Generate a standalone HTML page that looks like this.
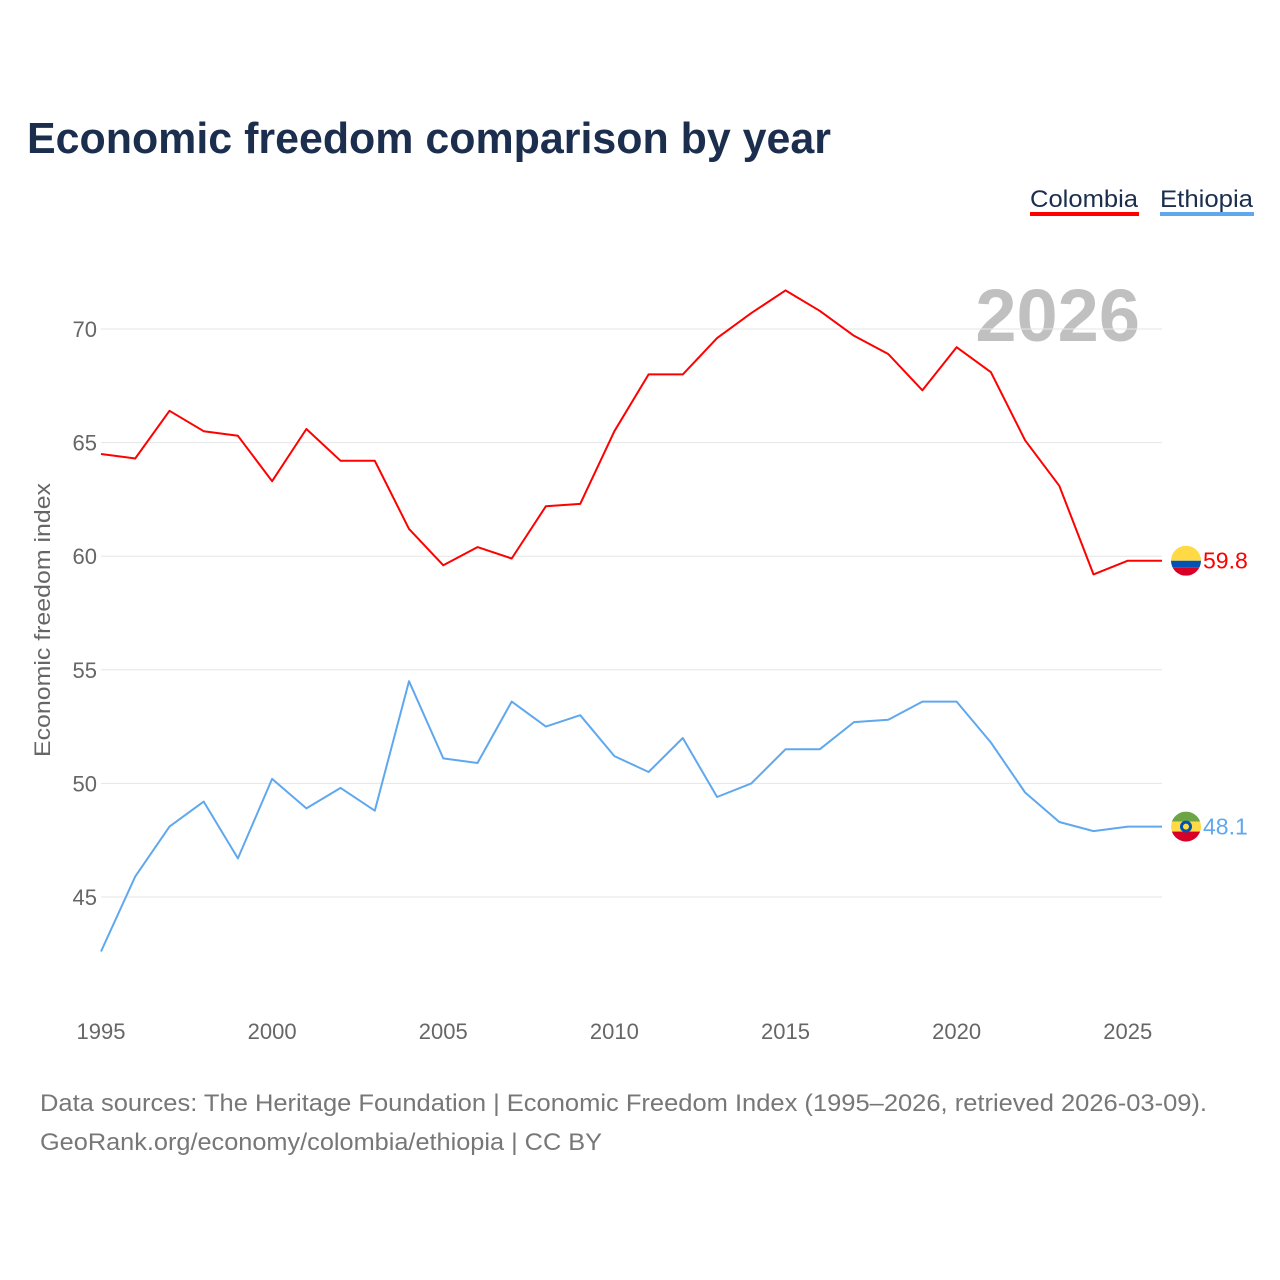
<!DOCTYPE html>
<html><head><meta charset="utf-8"><style>
body{margin:0;background:#fff;font-family:"Liberation Sans",sans-serif;}
#wrap{position:relative;width:1280px;height:1280px;overflow:hidden;}
</style></head><body>
<div id="wrap">
<svg id="chart" width="1280" height="1280" xmlns="http://www.w3.org/2000/svg">
<text x="27" y="153" font-size="44" font-weight="bold" fill="#1b2e4e" textLength="804" lengthAdjust="spacingAndGlyphs">Economic freedom comparison by year</text>
<g><text x="1030" y="207" font-size="24" fill="#1b2e4e" textLength="108" lengthAdjust="spacingAndGlyphs">Colombia</text><rect x="1030" y="212" width="109" height="4" fill="#ff0000"/></g>
<g><text x="1160" y="207" font-size="24" fill="#1b2e4e" textLength="93" lengthAdjust="spacingAndGlyphs">Ethiopia</text><rect x="1160" y="212" width="94" height="4" fill="#5fa8ee"/></g>
<text x="1140" y="341" font-size="74" font-weight="bold" fill="#c0c0c0" text-anchor="end">2026</text>
<g id="grid"></g><g id="yticks"></g><g id="xticks"></g><g id="lines"></g>
<text transform="translate(50,620) rotate(-90)" font-size="22" fill="#666" text-anchor="middle" textLength="274" lengthAdjust="spacingAndGlyphs">Economic freedom index</text>
<text x="40" y="1111" font-size="24" fill="#777" textLength="1167" lengthAdjust="spacingAndGlyphs">Data sources: The Heritage Foundation | Economic Freedom Index (1995–2026, retrieved 2026-03-09).</text>
<text x="40" y="1150" font-size="24" fill="#777" textLength="562" lengthAdjust="spacingAndGlyphs">GeoRank.org/economy/colombia/ethiopia | CC BY</text>
</svg></div>
<script>
const years=[1995,1996,1997,1998,1999,2000,2001,2002,2003,2004,2005,2006,2007,2008,2009,2010,2011,2012,2013,2014,2015,2016,2017,2018,2019,2020,2021,2022,2023,2024,2025,2026];
const colombia=[64.5,64.3,66.4,65.5,65.3,63.3,65.6,64.2,64.2,61.2,59.6,60.4,59.9,62.2,62.3,65.5,68.0,68.0,69.6,70.7,71.7,70.8,69.7,68.9,67.3,69.2,68.1,65.1,63.1,59.2,59.8,59.8];
const ethiopia=[42.6,45.9,48.1,49.2,46.7,50.2,48.9,49.8,48.8,54.5,51.1,50.9,53.6,52.5,53.0,51.2,50.5,52.0,49.4,50.0,51.5,51.5,52.7,52.8,53.6,53.6,51.8,49.6,48.3,47.9,48.1,48.1];
const yTicks=[45,50,55,60,65,70];
const xTicks=[1995,2000,2005,2010,2015,2020,2025];
const NS="http://www.w3.org/2000/svg";
const x=v=>101+(v-1995)*(1162-101)/31;
const y=v=>329+(70-v)*(897-329)/25;
function mk(t,a,p){const e=document.createElementNS(NS,t);for(const k in a)e.setAttribute(k,a[k]);p.appendChild(e);return e;}
const grid=document.getElementById('grid'),yt=document.getElementById('yticks'),xt=document.getElementById('xticks'),ln=document.getElementById('lines');
yTicks.forEach(v=>{
 const l=mk('line',{x1:101,x2:1162,y1:y(v),y2:y(v),stroke:'#e6e6e6','stroke-width':1},grid);
 
 
 const t=mk('text',{x:97,y:y(v)+8,'font-size':22,fill:'#666','text-anchor':'end'},yt);t.textContent=v;
 
 
});
xTicks.forEach(v=>{
 const t=mk('text',{x:x(v),y:1039,'font-size':22,fill:'#666','text-anchor':'middle'},xt);t.textContent=v;
 
 
});
function series(vals,color,name){
 const d=vals.map((v,i)=>(i?'L':'M')+x(years[i]).toFixed(1)+','+y(v).toFixed(1)).join('');
 const p=mk('path',{d:d,fill:'none',stroke:color,'stroke-width':2,'stroke-linejoin':'round'},ln);
 
 
 const last=vals[vals.length-1],cy=y(last);
 const g=mk('g',{},ln);
 
 
 const cp=mk('clipPath',{id:'c'+name},g);mk('circle',{cx:1186,cy:cy,r:15},cp);
 const gg=mk('g',{'clip-path':'url(#c'+name+')'},g);
 if(name==='colombia'){mk('rect',{x:1171,y:cy-15,width:30,height:15,fill:'#ffda44'},gg);mk('rect',{x:1171,y:cy,width:30,height:7,fill:'#0052b4'},gg);mk('rect',{x:1171,y:cy+7,width:30,height:8,fill:'#d80027'},gg);}
 else{mk('rect',{x:1171,y:cy-15,width:30,height:10,fill:'#6da544'},gg);mk('rect',{x:1171,y:cy-5,width:30,height:10,fill:'#ffda44'},gg);mk('rect',{x:1171,y:cy+5,width:30,height:10,fill:'#d80027'},gg);mk('circle',{cx:1186,cy:cy,r:6,fill:'#0052b4'},gg);mk('circle',{cx:1186,cy:cy,r:3,fill:'#ffda44'},gg);}
 const t=mk('text',{x:1203,y:cy+8,'font-size':23,fill:color},ln);t.textContent=last.toFixed(1);
 
 
}
series(colombia,'#ff0000','colombia');
series(ethiopia,'#5fa8ee','ethiopia');
</script>
</body></html>
